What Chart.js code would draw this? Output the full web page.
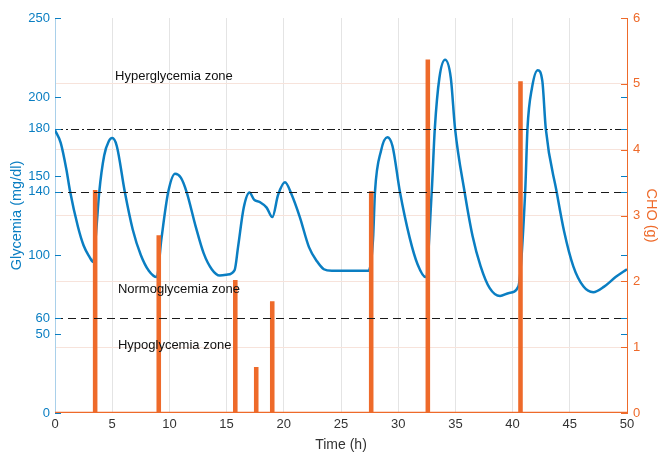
<!DOCTYPE html>
<html>
<head>
<meta charset="utf-8">
<script src="https://cdn.jsdelivr.net/npm/chart.js@4/dist/chart.umd.min.js"></script>
<style>
  html, body { margin: 0; padding: 0; background: #fff; }
  #wrap { width: 660px; height: 454px; position: relative; }
</style>
</head>
<body>
<div id="wrap"><canvas id="c"></canvas></div>
<script>
// glucose trace (time in h, glycemia in mg/dl)
const TIME_H = [0, 0.5, 1.0, 1.3, 2.0, 2.5, 3.0, 3.35, 3.6, 3.87, 4.3, 4.7, 5.0, 5.4, 6.1, 6.8, 7.5, 8.2, 8.9,
  9.3, 9.9, 10.5, 11.0, 11.5, 12.3, 13.0, 13.7, 14.4, 15.0, 15.7, 16.0, 16.5, 17.0, 17.4, 17.9, 18.5, 19.0,
  19.5, 20.1, 20.7, 21.4, 22.2, 22.9, 23.5, 24.2, 27.4, 27.8, 27.97, 28.5, 29.05, 29.5, 30.15, 31.0, 31.7,
  32.4, 32.93, 33.2, 33.6, 34.1, 34.6, 34.97, 35.8, 36.5, 37.2, 38.0, 38.9, 39.7, 40.5, 41.1, 41.3, 41.7,
  42.2, 42.6, 42.9, 43.85, 44.5, 45.3, 46.2, 47.05, 48.0, 49.0, 50.0];
const GLUCOSE = [179, 171, 154, 141, 118, 106, 99, 95.5, 115, 140, 163, 172, 174, 169, 140, 116, 100, 90, 86,
  110, 140, 151.5, 149, 140, 118, 101, 91, 87, 87.5, 90.5, 105, 130, 139.5, 135, 133.5, 130, 124,
  138, 146, 138, 124, 105, 96, 91, 90, 90, 110, 140, 166, 174.5, 169, 140, 111, 94,
  86, 140, 180, 212, 223.5, 212, 180, 140, 112, 93, 79, 74, 76, 80, 140, 180, 206,
  217, 210, 180, 140, 115, 93, 80, 76.5, 80, 86, 91];

// meals (start, end in h; carbohydrates in g)
const MEAL_START = [3.42, 8.98, 15.67, 17.5, 18.9, 27.55, 32.5, 40.6];
const MEAL_END   = [3.6, 9.16, 15.85, 17.68, 19.08, 27.73, 32.68, 40.78];
const MEAL_CHO   = [3.37, 2.68, 2.0, 0.68, 1.68, 3.35, 5.35, 5.02];

const LEFT_TICKS = [0, 50, 60, 100, 140, 150, 180, 200, 250];
const THRESHOLDS = [180, 140, 60];
const ZONE_LABELS = ['Hyperglycemia zone', 'Normoglycemia zone', 'Hypoglycemia zone'];
const ZONE_T = [5.25, 5.5, 5.5];
const ZONE_G = [213, 78, 42.5];

const BLUE = '#0a7ec2';
const ORANGE = '#ee6a2a';
const FONT = 'Liberation Sans, Arial, Helvetica, sans-serif';

const glucosePts = TIME_H.map((t, i) => ({ x: t, y: GLUCOSE[i] }));
const choPts = [{ x: 0, y: 0 }];
MEAL_START.forEach((s, i) => {
  choPts.push({ x: s, y: 0 }, { x: s, y: MEAL_CHO[i] }, { x: MEAL_END[i], y: MEAL_CHO[i] }, { x: MEAL_END[i], y: 0 });
});
choPts.push({ x: 50, y: 0 });

const overlayPlugin = {
  id: 'overlay',
  afterDatasetsDraw(chart) {
    const { ctx, chartArea: a, scales } = chart;
    ctx.save();
    // threshold lines
    THRESHOLDS.forEach(v => {
      const y = Math.round(scales.y.getPixelForValue(v)) + 0.5;
      ctx.beginPath();
      ctx.moveTo(a.left, y);
      ctx.lineTo(a.right, y);
      ctx.strokeStyle = '#1a1a1a';
      ctx.lineWidth = 1;
      ctx.setLineDash(v === 180 ? [8, 3, 2, 3] : [8, 5]);
      ctx.stroke();
    });
    ctx.setLineDash([]);
    // inward tick marks
    ctx.lineWidth = 1;
    LEFT_TICKS.forEach(v => {
      const y = Math.round(scales.y.getPixelForValue(v)) + 0.5;
      ctx.strokeStyle = BLUE;
      ctx.beginPath();
      ctx.moveTo(a.left, y); ctx.lineTo(a.left + 6, y);
      ctx.moveTo(a.right - 6, y); ctx.lineTo(a.right, y);
      ctx.stroke();
    });
    for (let v = 0; v <= 6; v++) {
      const y = Math.round(scales.y1.getPixelForValue(v)) + 0.5;
      ctx.strokeStyle = ORANGE;
      ctx.beginPath();
      ctx.moveTo(a.right - 6, y); ctx.lineTo(a.right, y);
      ctx.stroke();
    }
    // zone labels
    ctx.fillStyle = '#111';
    ctx.font = '13px ' + FONT;
    ctx.textBaseline = 'middle';
    ZONE_LABELS.forEach((txt, i) => {
      ctx.fillText(txt, scales.x.getPixelForValue(ZONE_T[i]), scales.y.getPixelForValue(ZONE_G[i]));
    });
    ctx.restore();
  },
};

new Chart(document.getElementById('c'), {
  type: 'line',
  data: {
    datasets: [
      {
        label: 'CHO',
        data: choPts,
        yAxisID: 'y1',
        borderColor: ORANGE,
        backgroundColor: ORANGE,
        borderWidth: 2.5,
        pointRadius: 0,
        tension: 0,
        fill: false,
        order: 0,
      },
      {
        label: 'Glycemia',
        data: glucosePts,
        yAxisID: 'y',
        borderColor: BLUE,
        borderWidth: 2.5,
        pointRadius: 0,
        cubicInterpolationMode: 'monotone',
        fill: false,
        order: 1,
      },
    ],
  },
  options: {
    responsive: true,
    maintainAspectRatio: false,
    animation: false,
    layout: { padding: { top: 18, left: 0, right: 0, bottom: 0 } },
    plugins: { legend: { display: false }, tooltip: { enabled: false } },
    scales: {
      x: {
        type: 'linear',
        min: 0,
        max: 50,
        afterFit: s => { s.height = 41; },
        ticks: { stepSize: 5, color: '#333', font: { family: FONT, size: 13 }, padding: 4, maxRotation: 0 },
        grid: {
          drawTicks: false,
          color: ctx => (ctx.tick && ctx.tick.value > 0 && ctx.tick.value < 50) ? '#e4e4e4' : 'rgba(0,0,0,0)',
        },
        border: { display: false },
        title: { display: true, text: 'Time (h)', color: '#333', font: { family: FONT, size: 14 }, padding: { top: 0, bottom: 0 } },
      },
      y: {
        position: 'left',
        min: 0,
        max: 250,
        afterFit: s => { s.width = 55; },
        afterBuildTicks: s => { s.ticks = LEFT_TICKS.map(v => ({ value: v })); },
        ticks: { autoSkip: false, color: BLUE, font: { family: FONT, size: 13 }, padding: 5 },
        grid: { display: false, drawTicks: false },
        border: { display: true, color: '#a9d0ea', width: 1 },
        title: { display: true, text: 'Glycemia (mg/dl)', color: BLUE, font: { family: FONT, size: 14.5 }, padding: { top: 8, bottom: 0 } },
      },
      y1: {
        position: 'right',
        min: 0,
        max: 6,
        afterFit: s => { s.width = 33; },
        ticks: { stepSize: 1, color: ORANGE, font: { family: FONT, size: 13 }, padding: 6 },
        grid: {
          drawTicks: false,
          color: ctx => (ctx.tick && ctx.tick.value > 0 && ctx.tick.value < 6) ? '#f7e3db' : 'rgba(0,0,0,0)',
        },
        border: { display: true, color: ORANGE, width: 1 },
        title: { display: true, text: 'CHO (g)', color: ORANGE, font: { family: FONT, size: 14.5 }, padding: { top: 0, bottom: 2 } },
      },
    },
  },
  plugins: [overlayPlugin],
});
</script>
</body>
</html>
